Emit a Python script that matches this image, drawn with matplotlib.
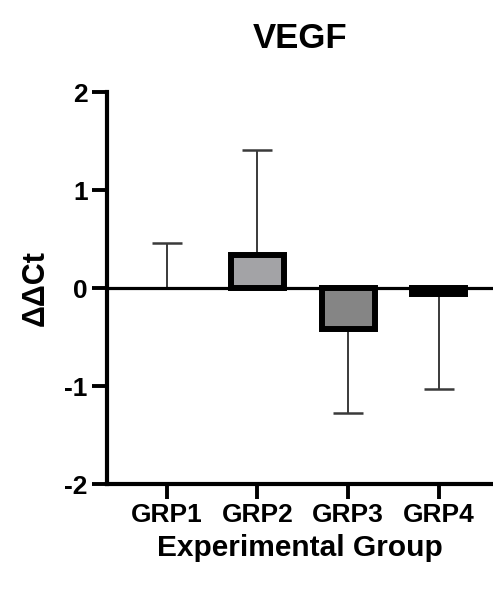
import matplotlib
matplotlib.use("Agg")
import matplotlib.pyplot as plt
import numpy as np

groups = ["GRP1", "GRP2", "GRP3", "GRP4"]
means = [0.0, 0.34, -0.42, -0.06]
errors = [0.46, 1.07, 0.85, 0.97]
fills = ["#ffffff", "#a3a3a6", "#858585", "#000000"]

plt.rcParams['font.family'] = ['Liberation Sans', 'DejaVu Sans']
plt.rcParams['font.weight'] = 'bold'

fig = plt.figure(figsize=(4.93, 5.91), dpi=100)
ax = fig.add_axes([0.217, 0.181, 0.783, 0.663])

x = np.arange(len(groups))
for i in range(len(groups)):
    m = means[i]
    e = errors[i]
    if m != 0:
        ax.bar(x[i], m, width=0.585, color=fills[i], edgecolor='black',
               linewidth=4.3, zorder=3)
    if m >= 0:
        yerr = [[0], [e]]
    else:
        yerr = [[e], [0]]
    ax.errorbar(x[i], m, yerr=yerr, fmt='none', ecolor='#3a3a3a',
                elinewidth=1.4, capsize=11, capthick=1.8, zorder=2)

ax.axhline(0, color='black', linewidth=2.3, zorder=4)

ax.set_xlim(-0.66, 3.6)
ax.set_ylim(-2, 2)
ax.set_yticks([-2, -1, 0, 1, 2])
ax.set_yticklabels(["-2", "-1", "0", "1", "2"])
ax.set_xticks(x)
ax.set_xticklabels(groups)

for s in ['top', 'right']:
    ax.spines[s].set_visible(False)
for s in ['left', 'bottom']:
    ax.spines[s].set_linewidth(3.0)

ax.tick_params(axis='both', direction='out', length=11, width=2.8,
               labelsize=19, pad=3)
for lab in ax.get_xticklabels() + ax.get_yticklabels():
    lab.set_fontweight('bold')

ax.set_ylabel("ΔΔCt", fontsize=22, fontweight='bold', labelpad=10)
ax.set_xlabel("Experimental Group", fontsize=21.5, fontweight='bold', labelpad=5)
ax.set_title("VEGF", fontsize=25, fontweight='bold', pad=32)

fig.savefig("out.png", dpi=100)
